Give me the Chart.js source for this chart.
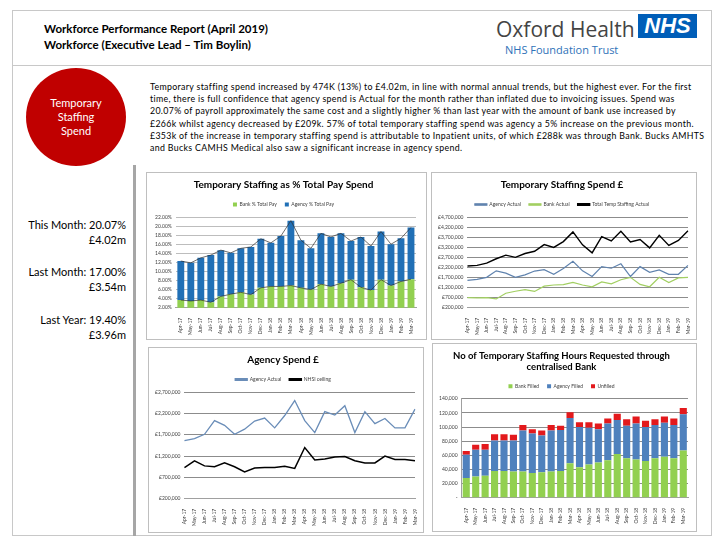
<!DOCTYPE html>
<html>
<head>
<meta charset="utf-8">
<script src="https://cdn.jsdelivr.net/npm/chart.js@4.4.1/dist/chart.umd.min.js"></script>
<style>
  body { margin: 0; width: 720px; height: 540px; background: #fff; font-family: Lato, 'Open Sans', sans-serif; position: relative; overflow: hidden; }
  .abs { position: absolute; }
  .frame { left: 12px; top: 10px; width: 700px; height: 526px; border: 1px solid #c8c8c8; box-sizing: border-box; }
  .hline { left: 12px; top: 65px; width: 700px; height: 1px; background: #c8c8c8; }
  .vline { left: 133px; top: 165px; width: 3px; height: 371px; background: #a6a6a6; }
  .title { left: 44px; top: 21px; font-size: 11.5px; font-weight: bold; line-height: 16px; color: #000; }
  .oxford { left: 496px; top: 15px; font-size: 21px; color: #444; font-family: 'Open Sans', sans-serif; }
  .nhs { left: 638px; top: 14px; width: 59px; height: 24px; background: #005eb8; color: #fff; font: italic bold 22px Arial, 'Liberation Sans', sans-serif; text-align: center; line-height: 24px; }
  .trust { left: 505px; top: 42px; font-size: 11px; color: #2f72b8; font-family: 'Open Sans', sans-serif; }
  .circle { left: 26px; top: 68px; width: 100px; height: 98px; border-radius: 50%; background: #c00000; color: #fff; font-size: 11px; line-height: 14px; text-align: center; display: flex; align-items: center; justify-content: center; }
  .para { left: 150px; top: 81px; font-size: 8.8px; letter-spacing: 0.33px; line-height: 12.2px; white-space: nowrap; color: #000; }
  .stats { left: 14px; width: 112px; text-align: right; font-size: 11px; line-height: 15px; color: #000; }
  .box { border: 1px solid #bfbfbf; box-sizing: border-box; }
  canvas { display: block; }
</style>
</head>
<body>
<div class="abs frame"></div>
<div class="abs hline"></div>
<div class="abs vline"></div>
<div class="abs title">Workforce Performance Report (April 2019)<br>Workforce (Executive Lead – Tim Boylin)</div>
<div class="abs oxford">Oxford Health</div>
<div class="abs nhs">NHS</div>
<div class="abs trust">NHS Foundation Trust</div>
<div class="abs circle">Temporary<br>Staffing<br>Spend</div>
<div class="abs para">Temporary staffing spend increased by 474K (13%) to £4.02m, in line with normal annual trends, but the highest ever. For the first<br>time, there is full confidence that agency spend is Actual for the month rather than inflated due to invoicing issues. Spend was<br>20.07% of payroll approximately the same cost and a slightly higher % than last year with the amount of bank use increased by<br>£266k whilst agency decreased by £209k. 57% of total temporary staffing spend was agency a 5% increase on the previous month.<br>£353k of the increase in temporary staffing spend is attributable to Inpatient units, of which £288k was through Bank. Bucks AMHTS<br>and Bucks CAMHS Medical also saw a significant increase in agency spend.</div>
<div class="abs stats" style="top:217px">This Month: 20.07%<br>£4.02m</div>
<div class="abs stats" style="top:264px">Last Month: 17.00%<br>£3.54m</div>
<div class="abs stats" style="top:312px">Last Year: 19.40%<br>£3.96m</div>

<div class="abs box" style="left:146px;top:172px;width:281px;height:168px"><canvas id="pctChart" width="279" height="166"></canvas></div>
<div class="abs box" style="left:431px;top:172px;width:266px;height:168px"><canvas id="spendChart" width="264" height="166"></canvas></div>
<div class="abs box" style="left:148px;top:347px;width:276px;height:186px"><canvas id="agencyChart" width="274" height="184"></canvas></div>
<div class="abs box" style="left:432px;top:343px;width:265px;height:189px"><canvas id="hoursChart" width="263" height="187"></canvas></div>

<script>
const months = ['Apr-17','May-17','Jun-17','Jul-17','Aug-17','Sep-17','Oct-17','Nov-17','Dec-17','Jan-18','Feb-18','Mar-18',
                'Apr-18','May-18','Jun-18','Jul-18','Aug-18','Sep-18','Oct-18','Nov-18','Dec-18','Jan-19','Feb-19','Mar-19'];

// Temporary staffing as % of total pay
const bankPct   = [3.7, 3.5, 3.7, 3.2, 4.5, 5.0, 5.4, 4.9, 6.4, 6.7, 6.7, 6.9, 6.4, 6.0, 7.2, 6.7, 7.4, 8.2, 6.5, 5.9, 8.2, 6.9, 7.8, 8.3];
const agencyPct = [8.6, 8.4, 9.3, 10.4, 10.2, 9.1, 9.7, 10.5, 10.8, 9.6, 11.1, 14.3, 10.5, 9.1, 11.2, 10.9, 11.0, 8.5, 11.1, 9.7, 10.6, 9.1, 9.5, 11.4];

// Temporary staffing spend £
const agencyActual = [1560000, 1610000, 1710000, 2030000, 1920000, 1710000, 1830000, 2020000, 2090000, 1860000, 2150000, 2500000,
                      2030000, 1750000, 2240000, 2160000, 2380000, 1750000, 2240000, 1960000, 2080000, 1860000, 1860000, 2300000];
const bankActual   = [700000, 690000, 700000, 640000, 920000, 1020000, 1100000, 1010000, 1270000, 1330000, 1350000, 1460000,
                      1330000, 1240000, 1480000, 1390000, 1590000, 1710000, 1360000, 1240000, 1710000, 1450000, 1680000, 1710000];
const totalActual  = [2270000, 2300000, 2410000, 2630000, 2810000, 2700000, 2890000, 3000000, 3330000, 3190000, 3480000, 3960000,
                      3320000, 2920000, 3730000, 3510000, 3990000, 3460000, 3580000, 3170000, 3790000, 3290000, 3540000, 4020000];

// Agency ceiling
const nhsiCeiling = [930000, 1090000, 970000, 950000, 1040000, 950000, 830000, 920000, 930000, 930000, 960000, 910000,
                     1400000, 1110000, 1130000, 1180000, 1190000, 1090000, 1040000, 1040000, 1200000, 1120000, 1120000, 1090000];

// Hours requested through centralised bank
const bankFilled   = [28000, 30000, 31000, 38000, 38000, 37000, 37000, 35000, 36000, 37000, 38000, 49000,
                      43000, 47000, 50000, 53000, 62000, 56000, 54000, 52000, 56000, 58000, 56000, 67000];
const agencyFilled = [33000, 38000, 37000, 43000, 43000, 44000, 58000, 56000, 52000, 58000, 58000, 64000,
                      57000, 52000, 47000, 52000, 48000, 46000, 51000, 48000, 47000, 48000, 47000, 51000];
const unfilled     = [5000, 7000, 8000, 9000, 9000, 8000, 8000, 6000, 7000, 8000, 6000, 8000,
                      7000, 8000, 8000, 7000, 9000, 9000, 10000, 9000, 8000, 9000, 9000, 9000];

Chart.defaults.font.family = 'Lato, "Open Sans", sans-serif';
Chart.defaults.color = '#404040';
Chart.defaults.animation = false;

const tiny = { size: 5 };
const pound = v => '£' + Number(v).toLocaleString('en-GB');

function titleOpts(text) {
    return { display: true, text: text, color: '#000', font: { size: 10, weight: 'bold' }, padding: { top: 6, bottom: 3 } };
}
function legendOpts(extra) {
    return Object.assign({
        display: true,
        labels: { font: tiny, boxWidth: 4, boxHeight: 4, padding: 8, color: '#404040' }
    }, extra || {});
}
function monthAxis() {
    return {
        ticks: { font: tiny, minRotation: 90, maxRotation: 90, autoSkip: false, padding: 2, color: '#404040' },
        grid: { display: false },
        border: { color: '#a0a0a0' }
    };
}

// Temporary Staffing as % Total Pay Spend
const totalPct = bankPct.map((b, i) => b + agencyPct[i]);
new Chart(document.getElementById('pctChart'), {
    type: 'bar',
    data: {
        labels: months,
        datasets: [
            { label: 'Bank % Total Pay', data: bankPct, backgroundColor: '#92d050', stack: 'pay', order: 2 },
            { label: 'Agency % Total Pay', data: agencyPct, backgroundColor: '#2170b6', stack: 'pay', order: 2 },
            { type: 'line', label: 'bankLine', data: bankPct, stack: 'l1', borderColor: '#303030', borderWidth: 0.7, pointRadius: 0, order: 1 },
            { type: 'line', label: 'totalLine', data: totalPct, stack: 'l2', borderColor: '#303030', borderWidth: 0.7, pointRadius: 0, order: 1 }
        ]
    },
    options: {
        responsive: false,
        layout: { padding: { left: 4, right: 10, bottom: 2 } },
        datasets: { bar: { barPercentage: 0.78, categoryPercentage: 0.88 } },
        plugins: {
            title: titleOpts('Temporary Staffing as % Total Pay Spend'),
            legend: legendOpts({ labels: { font: tiny, boxWidth: 4, boxHeight: 4, padding: 8, filter: item => item.datasetIndex < 2 } }),
            tooltip: { enabled: false }
        },
        scales: {
            x: Object.assign(monthAxis(), { stacked: true }),
            y: {
                stacked: true, min: 2, max: 22,
                ticks: { stepSize: 2, font: tiny, padding: 4, callback: v => v.toFixed(2) + '%' },
                grid: { color: '#bdbdbd', drawTicks: false },
                border: { display: false }
            }
        }
    }
});

// Temporary Staffing Spend £
new Chart(document.getElementById('spendChart'), {
    type: 'line',
    data: {
        labels: months,
        datasets: [
            { label: 'Agency Actual', data: agencyActual, borderColor: '#6083ae', backgroundColor: '#6083ae', borderWidth: 1.2, pointRadius: 0 },
            { label: 'Bank Actual', data: bankActual, borderColor: '#a2cf62', backgroundColor: '#a2cf62', borderWidth: 1.2, pointRadius: 0 },
            { label: 'Total Temp Staffing Actual', data: totalActual, borderColor: '#000', backgroundColor: '#000', borderWidth: 1.4, pointRadius: 0 }
        ]
    },
    options: {
        responsive: false,
        layout: { padding: { left: 2, right: 6, bottom: 2 } },
        plugins: {
            title: titleOpts('Temporary Staffing Spend £'),
            legend: legendOpts({ labels: { font: tiny, boxWidth: 12, boxHeight: 1.5, padding: 8 } }),
            tooltip: { enabled: false }
        },
        scales: {
            x: monthAxis(),
            y: {
                min: 200000, max: 4700000,
                ticks: { stepSize: 500000, font: tiny, padding: 4, callback: pound },
                grid: { color: '#8c8c8c', lineWidth: 1, drawTicks: false },
                border: { display: false }
            }
        }
    }
});

// Agency Spend £
new Chart(document.getElementById('agencyChart'), {
    type: 'line',
    data: {
        labels: months,
        datasets: [
            { label: 'Agency Actual', data: agencyActual, borderColor: '#6a8db8', backgroundColor: '#6a8db8', borderWidth: 1.3, pointRadius: 0 },
            { label: 'NHSI ceiling', data: nhsiCeiling, borderColor: '#000', backgroundColor: '#000', borderWidth: 1.5, pointRadius: 0 }
        ]
    },
    options: {
        responsive: false,
        layout: { padding: { left: 2, right: 8, bottom: 4 } },
        plugins: {
            title: titleOpts('Agency Spend £'),
            legend: legendOpts({ labels: { font: tiny, boxWidth: 12, boxHeight: 1.5, padding: 8 } }),
            tooltip: { enabled: false }
        },
        scales: {
            x: monthAxis(),
            y: {
                min: 200000, max: 2700000,
                ticks: { stepSize: 500000, font: tiny, padding: 4, callback: pound },
                grid: { color: '#8c8c8c', drawTicks: false },
                border: { display: false }
            }
        }
    }
});

// No of Temporary Staffing Hours Requested through centralised Bank
new Chart(document.getElementById('hoursChart'), {
    type: 'bar',
    data: {
        labels: months,
        datasets: [
            { label: 'Bank Filled', data: bankFilled, backgroundColor: '#92d050' },
            { label: 'Agency Filled', data: agencyFilled, backgroundColor: '#4f81bd' },
            { label: 'Unfilled', data: unfilled, backgroundColor: '#e3191c' }
        ]
    },
    options: {
        responsive: false,
        layout: { padding: { left: 2, right: 8, bottom: 4 } },
        datasets: { bar: { barPercentage: 0.82, categoryPercentage: 0.92 } },
        plugins: {
            title: Object.assign(titleOpts(['No of Temporary Staffing Hours Requested through', 'centralised Bank']), { font: { size: 9.5, weight: 'bold' } }),
            legend: legendOpts(),
            tooltip: { enabled: false }
        },
        scales: {
            x: Object.assign(monthAxis(), { stacked: true }),
            y: {
                stacked: true, min: 0, max: 140000,
                ticks: { stepSize: 20000, font: tiny, padding: 4, callback: v => v === 0 ? '-' : Number(v).toLocaleString('en-GB') },
                grid: { color: '#8c8c8c', drawTicks: false },
                border: { color: '#a0a0a0' }
            }
        }
    }
});
</script>
</body>
</html>
